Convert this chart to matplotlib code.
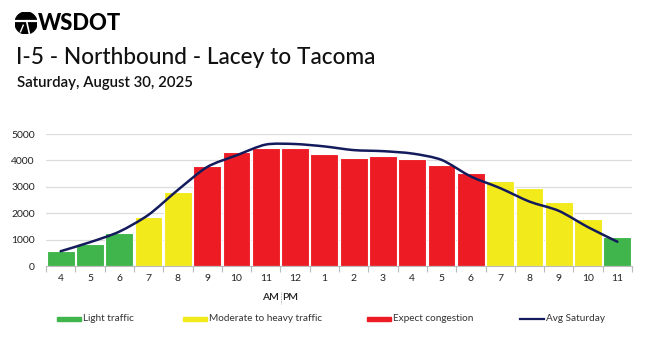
import matplotlib.pyplot as plt
import matplotlib.patches as patches
from matplotlib.path import Path
from matplotlib.lines import Line2D
import numpy as np

plt.rcParams['font.family'] = ['Lato', 'DejaVu Sans']

# Hourly volumes, 4 AM through 11 PM
hours = ['4', '5', '6', '7', '8', '9', '10', '11', '12', '1',
         '2', '3', '4', '5', '6', '7', '8', '9', '10', '11']
volumes = [550, 850, 1240, 1850, 2820, 3800, 4310, 4480, 4460, 4260,
           4090, 4180, 4060, 3820, 3540, 3230, 2950, 2430, 1790, 1080]
avg_saturday = [560, 900, 1300, 1940, 2880, 3750, 4190, 4600, 4620, 4530,
                4390, 4350, 4260, 4020, 3390, 2950, 2440, 2090, 1470, 920]
levels = ['light', 'light', 'light', 'moderate', 'moderate', 'heavy', 'heavy',
          'heavy', 'heavy', 'heavy', 'heavy', 'heavy', 'heavy', 'heavy', 'heavy',
          'moderate', 'moderate', 'moderate', 'moderate', 'light']

colors = {'light': '#3fb54b', 'moderate': '#f3ea1c', 'heavy': '#ed1c24'}
line_color = '#141b5c'

fig = plt.figure(figsize=(6.5, 3.37), dpi=100)
ax = fig.add_axes([46 / 650, 71 / 337, 586 / 650, 132 / 337])

x = np.arange(len(hours))
ax.bar(x, volumes, width=0.95, color=[colors[l] for l in levels],
       edgecolor='white', linewidth=0.8, zorder=2)


# smooth curve through the average points (Catmull-Rom as cubic beziers)
def smooth_path(xs, ys, t=0.4):
    pts = np.column_stack([xs, ys]).astype(float)
    verts = [pts[0]]
    codes = [Path.MOVETO]
    n = len(pts)
    for i in range(n - 1):
        p0 = pts[i - 1] if i > 0 else pts[i]
        p1 = pts[i]
        p2 = pts[i + 1]
        p3 = pts[i + 2] if i + 2 < n else pts[i + 1]
        c1 = p1 + (p2 - p0) * t / 3
        c2 = p2 - (p3 - p1) * t / 3
        verts += [c1, c2, p2]
        codes += [Path.CURVE4] * 3
    return Path(verts, codes)


ax.add_patch(patches.PathPatch(smooth_path(x, avg_saturday), facecolor='none',
                               edgecolor=line_color, lw=1.8, zorder=3,
                               capstyle='round'))

ax.set_xlim(-0.5, len(hours) - 0.5)
ax.set_ylim(0, 5000)
ax.set_yticks(np.arange(0, 5001, 1000))
ax.yaxis.grid(True, color='#dcdcdc', linewidth=0.9, zorder=0)
ax.set_axisbelow(True)

ax.set_xticks(x)
ax.set_xticklabels(hours)
ax.set_xticks(np.arange(-0.5, len(hours), 1), minor=True)
ax.tick_params(axis='x', which='major', length=0, pad=6, labelsize=7.5, colors='#222222')
ax.tick_params(axis='x', which='minor', length=4, color='#bbbbbb', width=0.8)
ax.tick_params(axis='y', length=0, pad=8, labelsize=7.5, labelcolor='#222222')

for s in ['left', 'right', 'top']:
    ax.spines[s].set_visible(False)
ax.spines['bottom'].set_color('#bbbbbb')
ax.spines['bottom'].set_linewidth(0.8)

# AM | PM marker
fig.text(279 / 650, 1 - 298 / 337, 'AM', ha='right', va='center', fontsize=7.5,
         fontweight='semibold', color='#222222')
fig.text(282 / 650, 1 - 298 / 337, 'PM', ha='left', va='center', fontsize=7.5,
         fontweight='semibold', color='#222222')
fig.add_artist(Line2D([280.5 / 650, 280.5 / 650], [1 - 292 / 337, 1 - 304 / 337],
                      color='#999999', lw=0.6, ls=(0, (1, 1))))

# legend row
legend_y = 1 - 318.5 / 337
items = [(57, 'Light traffic', colors['light'], 'patch'),
         (183, 'Moderate to heavy traffic', colors['moderate'], 'patch'),
         (367, 'Expect congestion', colors['heavy'], 'patch'),
         (520, 'Avg Saturday', line_color, 'line')]
for px, label, c, kind in items:
    if kind == 'patch':
        fig.add_artist(patches.Rectangle((px / 650, legend_y - 2 / 337), 24 / 650, 4 / 337,
                                         transform=fig.transFigure, color=c))
    else:
        fig.add_artist(Line2D([px / 650, (px + 24) / 650], [legend_y, legend_y],
                              color=c, lw=1.6))
    fig.text((px + 26) / 650, legend_y, label, ha='left', va='center',
             fontsize=7.2, color='#333333')

# header: logo, route and date
logo = fig.add_axes([15 / 650, 1 - 34 / 337, 22 / 650, 22 / 337])
logo.set_xlim(-1, 1)
logo.set_ylim(-1, 1)
logo.set_aspect('equal')
logo.axis('off')
logo.add_patch(patches.Circle((0, 0), 1, color='black'))
logo.plot([-1, 1], [0.2, 0.2], color='white', lw=1.6)
logo.plot([0.05, 0.3], [0.2, -0.95], color='white', lw=1.2)
logo.plot([-0.25, -0.5], [-0.2, -0.8], color='white', lw=1.0)

fig.text(38 / 650, 1 - 23 / 337, 'WSDOT', ha='left', va='center', fontsize=15.8,
         fontweight='black', color='black')
fig.text(16 / 650, 1 - 57 / 337, 'I-5 - Northbound - Lacey to Tacoma', ha='left',
         va='center', fontsize=16.3, fontweight='medium', color='#111111')
fig.text(17 / 650, 1 - 83 / 337, 'Saturday, August 30, 2025', ha='left', va='center',
         fontsize=10.8, fontweight='semibold', color='#111111')

fig.savefig('out.png', dpi=100)
